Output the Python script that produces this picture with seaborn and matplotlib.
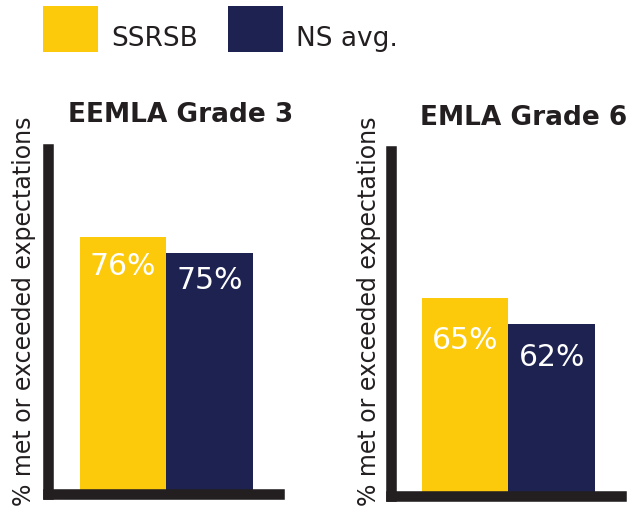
import matplotlib
matplotlib.use("Agg")
import matplotlib.pyplot as plt
from matplotlib.patches import Rectangle
import seaborn as sns
import pandas as pd

# ─────────────────────────── data ────────────────────────────
SERIES = ["SSRSB", "NS avg."]
PANELS = ["EEMLA Grade 3", "EMLA Grade 6"]
VALUES = [[76, 75], [65, 62]]
YLABEL = "% met or exceeded expectations"

COLORS = ["#FCCA0B", "#1D2251"]
INK = "#231F20"

# the original bars are not drawn from zero, so each panel gets its own window
YLIMS = [(59.96, 81.5), (42.18, 81.96)]
# how far below the bar top each value label sits (px)
LABEL_DROP = [[38, 36], [51, 42]]

sns.set_theme(style="white")
plt.rcParams["font.family"] = ["DejaVu Sans"]

fig = plt.figure(figsize=(6.42, 5.11), dpi=100)
W, H = 642, 511

# axes boxes in pixels: left, right, bottom(from top), top(from top)
boxes = [(48.3, 279.0, 493.7, 149.0), (390.8, 621.0, 495.8, 151.0)]
title_pos = [(181, 122), (524, 125)]
ylabel_x = [24, 369]

for i, panel in enumerate(PANELS):
    l, r, b, t = boxes[i]
    ax = fig.add_axes([l / W, (H - b) / H, (r - l) / W, (b - t) / H])
    df = pd.DataFrame({"series": SERIES, "value": VALUES[i]})
    sns.barplot(data=df, x="series", y="value", hue="series", palette=COLORS,
                width=1.0, saturation=1, legend=False, ax=ax, zorder=1,
                linewidth=0, edgecolor="none")
    ax.set_xlim(-0.86, 1.80)
    ax.set_ylim(*YLIMS[i])
    ax.set_xticks([]); ax.set_yticks([])
    ax.set_xlabel(""); ax.set_ylabel("")
    for side in ["top", "right"]:
        ax.spines[side].set_visible(False)
    for side in ["left", "bottom"]:
        ax.spines[side].set_color(INK)
        ax.spines[side].set_linewidth(7.6)
        ax.spines[side].set_zorder(3)
    ax.patch.set_alpha(0)

    for j, v in enumerate(VALUES[i]):
        ax.annotate(f"{v}%", xy=(j, v), xytext=(0, -LABEL_DROP[i][j] * 0.72),
                    textcoords="offset points", ha="center", va="baseline",
                    color="white", fontsize=21.5)

    tx, ty = title_pos[i]
    fig.text(tx / W, (H - ty) / H, panel, ha="center", va="baseline",
             fontsize=19, fontweight="bold", color=INK)
    fig.text(ylabel_x[i] / W, (H - 311) / H, YLABEL, rotation=90,
             ha="center", va="center", fontsize=17, color=INK)

# ─────────────────────────── legend ──────────────────────────
leg_x = [43, 228]
for k, name in enumerate(SERIES):
    fig.add_artist(Rectangle((leg_x[k] / W, (H - 52) / H), 55 / W, 46 / H,
                             transform=fig.transFigure, color=COLORS[k], lw=0))
    fig.text((leg_x[k] + 68) / W, (H - 46) / H, name, ha="left", va="baseline",
             fontsize=19, color=INK)

plt.savefig("out.png", dpi=100)
plt.close()
